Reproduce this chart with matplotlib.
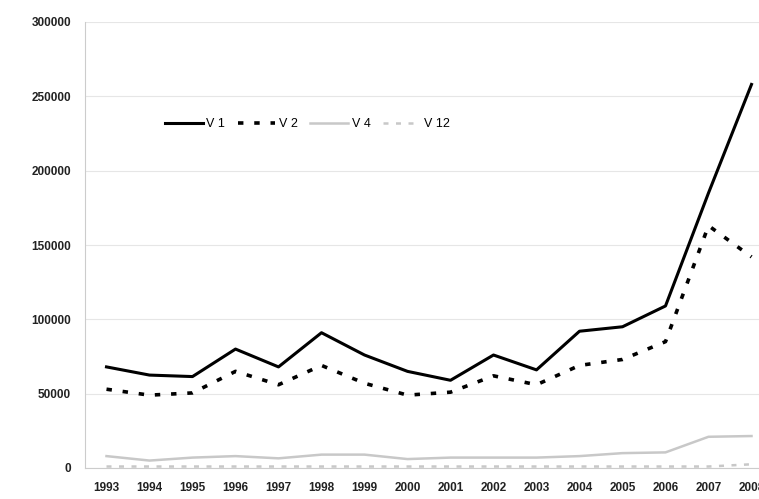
import matplotlib
matplotlib.use("Agg")
import matplotlib.pyplot as plt
import numpy as np

years = [str(y) for y in range(1993, 2009)]
v1 = [68000, 62500, 61500, 80000, 68000, 91000, 76000, 65000, 59000, 76000, 66000, 92000, 95000, 109000, 185000, 258000]
v2 = [53000, 49000, 50500, 65000, 56000, 69000, 57000, 49000, 51000, 62000, 56000, 69000, 73000, 85000, 163000, 142000]
v4 = [8000, 5000, 7000, 8000, 6500, 9000, 9000, 6000, 7000, 7000, 7000, 8000, 10000, 10500, 21000, 21500]
v12 = [1000, 1000, 1000, 1000, 1000, 1000, 1000, 1000, 1000, 1000, 1000, 1000, 1000, 1000, 1000, 2500]
labels = ["V 1", "V 2", "V 4", "V 12"]

plt.rcParams['font.family'] = ['Liberation Sans', 'DejaVu Sans']

fig = plt.figure(figsize=(7.59, 4.99), dpi=100)
ax = fig.add_axes([85 / 759, 31 / 499, 688 / 759, 446 / 499])

x = np.arange(len(years))
ax.plot(x, v1, color='black', linewidth=2.2, label=labels[0])
ax.plot(x, v2, color='black', linewidth=2.6, linestyle=(0, (1.5, 3)), label=labels[1])
ax.plot(x, v4, color='#c8c8c8', linewidth=1.8, label=labels[2])
ax.plot(x, v12, color='#c8c8c8', linewidth=1.8, linestyle=(0, (2, 3)), label=labels[3])

ax.set_xlim(-0.5, len(years) - 0.5)
ax.set_ylim(0, 300000)
ax.set_yticks(range(0, 300001, 50000))
ax.set_xticks(x)
ax.set_xticklabels(years)
ax.yaxis.grid(True, color='#e6e6e6', linewidth=0.8)
ax.set_axisbelow(True)
for s in ['top', 'right']:
    ax.spines[s].set_visible(False)
ax.spines['left'].set_color('#cccccc')
ax.spines['bottom'].set_color('#cccccc')
ax.tick_params(axis='both', length=0, labelsize=8.5, colors='#222222', pad=10)
for t in ax.get_xticklabels() + ax.get_yticklabels():
    t.set_fontweight('bold')

ax.legend(loc='upper left', bbox_to_anchor=(0.1, 0.81), ncol=4, frameon=False,
          fontsize=9, handlelength=3.0, columnspacing=1.0, handletextpad=0.3)

fig.savefig('out.png', dpi=100)
